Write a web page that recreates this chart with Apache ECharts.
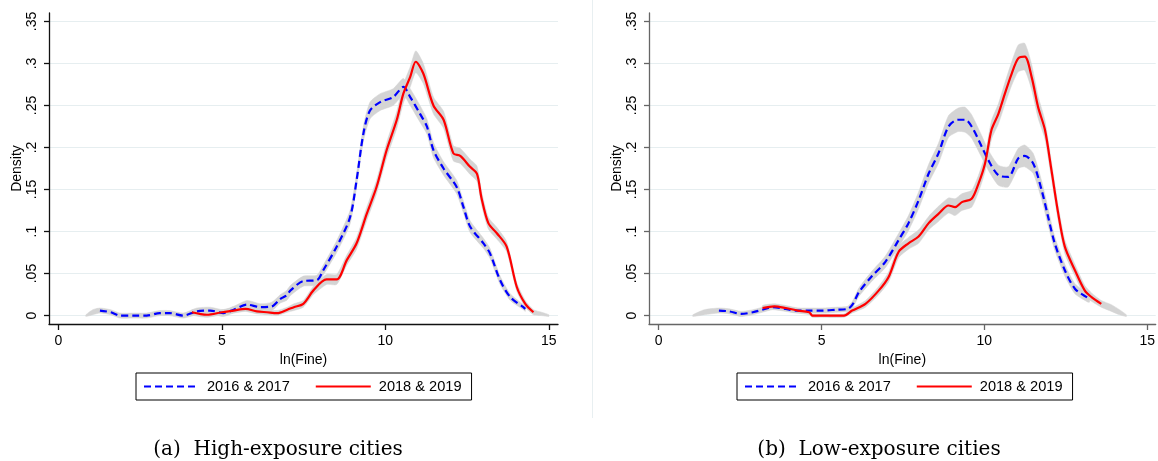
<!DOCTYPE html>
<html><head><meta charset="utf-8">
<script src="https://cdn.jsdelivr.net/npm/echarts@6/dist/echarts.min.js"></script>
<style>html,body{margin:0;padding:0;background:#fff}#c{width:1158px;height:461px}</style>
</head><body><div id="c"></div>
<script>
// ---------- tick labels, names ----------
const xTicks = [0, 5, 10, 15];
const yTicks = [0, 0.05, 0.1, 0.15, 0.2, 0.25, 0.3, 0.35];
const seriesNames = ['2016 & 2017', '2018 & 2019'];
const captions = ['(a)  High-exposure cities', '(b)  Low-exposure cities'];
const xTitle = 'ln(Fine)';
const yTitle = 'Density';

// ---------- panel (a): high-exposure cities ----------
const hiX16 = [1.27,1.6,1.88,2.3,2.7,3.1,3.4,3.82,4.23,4.64,5.05,5.36,5.77,6.18,6.53,6.79,6.98,7.1,7.49,7.9,8.1,8.51,8.92,9.12,9.33,9.53,9.84,10.24,10.55,10.76,11.06,11.27,11.47,11.78,12.18,12.39,12.59,13.0,13.2,13.51,13.82,14.22,14.28];
const hiY16 = [.006,.004,0,0,0,.003,.003,0,.005,.006,.003,.007,.013,.01,.011,.02,.024,.03,.041,.042,.054,.082,.117,.161,.217,.244,.254,.26,.272,.26,.24,.225,.197,.175,.153,.129,.106,.086,.074,.042,.022,.01,.008];
const hiCI16 = [.003,.003,.003,.003,.003,.003,.003,.003,.004,.004,.004,.004,.005,.004,.005,.005,.006,.006,.006,.006,.006,.007,.008,.008,.009,.01,.01,.01,.01,.01,.01,.009,.009,.008,.008,.007,.007,.006,.006,.005,.004,.003,.003];

const hiX18 = [4.08,4.54,5.0,5.36,5.72,6.07,6.38,6.69,7.0,7.2,7.49,7.8,8.2,8.51,8.82,9.12,9.43,9.73,10.04,10.35,10.55,10.76,10.93,11.16,11.47,11.78,12.08,12.29,12.59,12.8,12.94,13.15,13.41,13.71,14.02,14.28,14.53];
const hiY18 = [.004,.001,.004,.006,.008,.005,.004,.003,.007,.01,.014,.03,.043,.043,.066,.086,.121,.153,.197,.233,.264,.284,.302,.288,.25,.233,.193,.19,.177,.169,.14,.11,.098,.082,.034,.014,.004];
const hiCI18 = [.003,.003,.003,.003,.003,.003,.003,.003,.003,.004,.004,.005,.006,.006,.006,.007,.008,.008,.009,.01,.011,.012,.013,.012,.01,.01,.009,.009,.009,.009,.008,.007,.007,.006,.005,.004,.003];

// confidence band tails beyond the drawn lines
const hiTailLX = [0.84, 1.05], hiTailLY = [0, .004], hiTailLCI = [.001, .003];
const hiTailRX = [14.78, 15.0], hiTailRY = [.002, 0], hiTailRCI = [.002, .001];

// ---------- panel (b): low-exposure cities ----------
const loX16 = [1.85,2.17,2.53,2.89,3.19,3.5,3.9,4.21,4.62,5.03,5.44,5.8,5.95,6.15,6.55,6.96,7.37,7.67,7.98,8.29,8.59,8.9,9.2,9.41,9.61,9.92,10.12,10.43,10.73,11.04,11.24,11.5,11.76,11.96,12.16,12.47,12.78,13.18,13.23];
const loY16 = [.006,.005,.002,.004,.007,.01,.008,.006,.006,.006,.007,.008,.013,.028,.047,.064,.09,.11,.137,.169,.193,.225,.233,.233,.225,.201,.185,.167,.165,.187,.19,.181,.149,.117,.086,.054,.032,.021,.02];
const loCI16 = [.003,.003,.003,.003,.003,.003,.003,.003,.003,.003,.003,.003,.004,.005,.006,.007,.008,.009,.01,.011,.012,.013,.014,.015,.014,.013,.012,.012,.012,.012,.013,.012,.011,.01,.008,.007,.006,.005,.004];

const loX18 = [3.19,3.55,3.9,4.27,4.62,4.72,5.03,5.69,5.94,6.35,6.76,7.06,7.37,7.67,7.98,8.29,8.59,8.9,9.1,9.31,9.61,9.82,10.02,10.22,10.43,10.63,10.84,11.04,11.24,11.45,11.65,11.86,12.06,12.27,12.47,12.78,13.08,13.29,13.59];
const loY18 = [.009,.011,.009,.006,.004,0,0,0,.006,.014,.03,.046,.076,.086,.094,.11,.121,.131,.129,.135,.139,.157,.181,.221,.24,.264,.288,.306,.308,.284,.248,.221,.173,.121,.082,.054,.03,.022,.014];
const loCI18 = [.003,.003,.003,.003,.003,.002,.002,.002,.003,.004,.005,.006,.007,.007,.008,.008,.009,.009,.01,.01,.01,.01,.01,.011,.012,.013,.014,.016,.016,.015,.013,.011,.01,.009,.008,.007,.006,.005,.004];

const loTailLX = [1.05, 1.4], loTailLY = [0, .004], loTailLCI = [.001, .003];
const loTailRX = [13.9, 14.15, 14.36], loTailRY = [.009, .004, 0], loTailRCI = [.004, .003, .001];

// ---------- styling ----------
const BLUE = '#0000ff', RED = '#ff0000', BAND = '#d4d4d4', GRID = '#e6eef0';
const FONT = 'Liberation Sans';

function zip(xs, ys) { return xs.map((x, i) => [x, ys[i]]); }

function bandRenderer(xs, ys, cis) {
  return function (params, api) {
    const up = [], lo = [];
    for (let i = 0; i < xs.length; i++) {
      up.push(api.coord([xs[i], ys[i] + cis[i]]));
      lo.push(api.coord([xs[i], ys[i] - cis[i]]));
    }
    return {
      type: 'polygon',
      shape: { points: up.concat(lo.reverse()), smooth: 0.2 },
      style: { fill: BAND, stroke: BAND, lineWidth: 0.5 }
    };
  };
}

function makeAxes(idx, xmin, xmax, axisColor) {
  const x = {
    gridIndex: idx, type: 'value', min: xmin, max: xmax,
    axisLine: { show: true, onZero: false, lineStyle: { color: axisColor, width: 1.3 } },
    axisTick: { show: true, customValues: xTicks, length: 6, lineStyle: { color: axisColor, width: 1.3 } },
    axisLabel: { customValues: xTicks, fontSize: 14, fontFamily: FONT, color: '#000', margin: 10 },
    splitLine: { show: false },
    name: xTitle, nameLocation: 'middle', nameGap: 26,
    nameTextStyle: { fontSize: 14, fontFamily: FONT, color: '#000' }
  };
  const y = {
    gridIndex: idx, type: 'value', min: -0.01, max: 0.36,
    axisLine: { show: true, onZero: false, lineStyle: { color: axisColor, width: 1.3 } },
    axisTick: { show: true, customValues: yTicks, length: 5, lineStyle: { color: axisColor, width: 1.3 } },
    axisLabel: {
      customValues: yTicks, rotate: 90, fontSize: 14, fontFamily: FONT, color: '#000', margin: 10,
      formatter: v => (v === 0 ? '0' : String(+v.toFixed(2)).replace(/^0\./, '.'))
    },
    splitLine: { show: true, lineStyle: { color: GRID, width: 1 } },
    name: yTitle, nameLocation: 'middle', nameGap: 23,
    nameTextStyle: { fontSize: 14, fontFamily: FONT, color: '#000' }
  };
  return [x, y];
}

const [xa, ya] = makeAxes(0, -0.288, 15.28, '#111');
const [xb, yb] = makeAxes(1, -0.297, 15.26, '#666');

function panelSeries(idx, X16, Y16, C16, X18, Y18, C18, tail16, tail18) {
  const b16x = tail16.lx.concat(X16), b16y = tail16.ly.concat(Y16), b16c = tail16.lc.concat(C16);
  const b18x = X18.concat(tail18.rx), b18y = Y18.concat(tail18.ry), b18c = C18.concat(tail18.rc);
  return [
    { type: 'custom', name: 'ci16_' + idx, xAxisIndex: idx, yAxisIndex: idx, data: [[0, 0]], silent: true, z: 1,
      renderItem: bandRenderer(b16x, b16y, b16c) },
    { type: 'custom', name: 'ci18_' + idx, xAxisIndex: idx, yAxisIndex: idx, data: [[0, 0]], silent: true, z: 1,
      renderItem: bandRenderer(b18x, b18y, b18c) },
    { type: 'line', name: seriesNames[0], xAxisIndex: idx, yAxisIndex: idx, data: zip(X16, Y16),
      symbol: 'none', showSymbol: false, smooth: 0.3, z: 3,
      lineStyle: { color: BLUE, width: 2.2, type: [7, 4] }, itemStyle: { color: BLUE } },
    { type: 'line', name: seriesNames[1], xAxisIndex: idx, yAxisIndex: idx, data: zip(X18, Y18),
      symbol: 'none', showSymbol: false, smooth: 0.3, z: 4,
      lineStyle: { color: RED, width: 2.2 }, itemStyle: { color: RED } }
  ];
}

const series = []
  .concat(panelSeries(0, hiX16, hiY16, hiCI16, hiX18, hiY18, hiCI18,
    { lx: hiTailLX, ly: hiTailLY, lc: hiTailLCI }, { rx: hiTailRX, ry: hiTailRY, rc: hiTailRCI }))
  .concat(panelSeries(1, loX16, loY16, loCI16, loX18, loY18, loCI18,
    { lx: loTailLX, ly: loTailLY, lc: loTailLCI }, { rx: loTailRX, ry: loTailRY, rc: loTailRCI }));

function legendAt(left) {
  return {
    left: left, top: 373, data: seriesNames, selectedMode: false,
    itemWidth: 55, itemHeight: 14, itemGap: 25, padding: [6, 10, 6, 7],
    borderColor: '#000', borderWidth: 1, borderRadius: 0,
    itemStyle: { color: 'rgba(0,0,0,0)', borderColor: 'rgba(0,0,0,0)', borderWidth: 0, opacity: 0 },
    textStyle: { fontSize: 14.6, fontFamily: FONT, color: '#000', padding: [0, 0, 0, 3] }
  };
}

const chart = echarts.init(document.getElementById('c'), null, { renderer: 'canvas', width: 1158, height: 461 });
chart.setOption({
  animation: false,
  backgroundColor: '#fff',
  textStyle: { fontFamily: FONT },
  grid: [
    { left: 49, top: 13, width: 509, height: 311 },
    { left: 649, top: 13, width: 509, height: 311 }
  ],
  xAxis: [xa, xb],
  yAxis: [ya, yb],
  legend: [legendAt(136), legendAt(737)],
  series: series,
  graphic: [
    { type: 'line', shape: { x1: 592.5, y1: 0, x2: 592.5, y2: 418 }, style: { stroke: '#e8eff1', lineWidth: 1 }, silent: true },
    { type: 'text', x: 278, y: 450, style: { text: captions[0], fontSize: 20, fontFamily: 'DejaVu Serif', fill: '#000', align: 'center', verticalAlign: 'middle' } },
    { type: 'text', x: 879, y: 450, style: { text: captions[1], fontSize: 20, fontFamily: 'DejaVu Serif', fill: '#000', align: 'center', verticalAlign: 'middle' } }
  ]
});
</script>
</body></html>
